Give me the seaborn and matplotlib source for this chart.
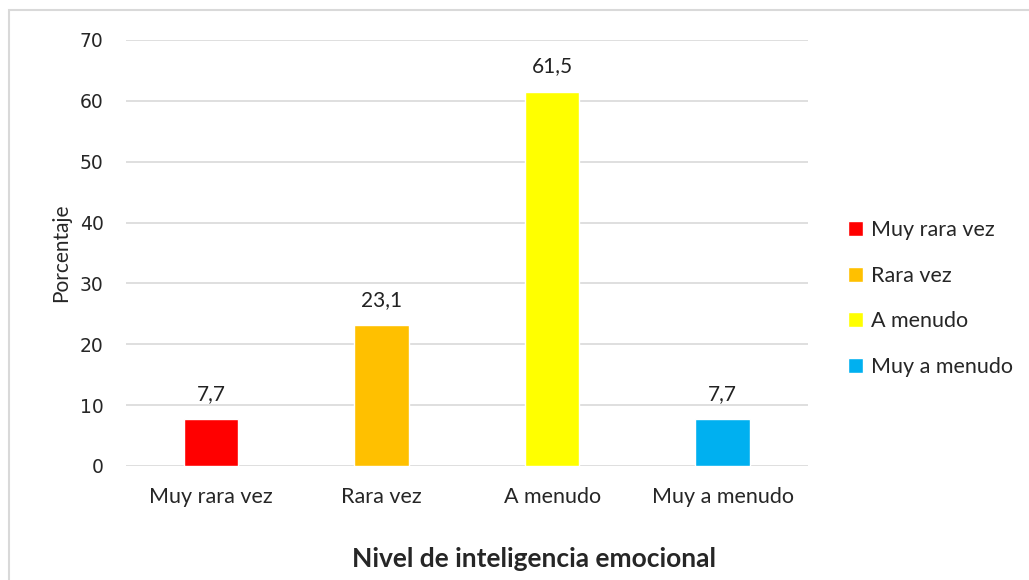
import matplotlib
matplotlib.use("Agg")
import matplotlib.pyplot as plt
import seaborn as sns
import pandas as pd
from matplotlib.patches import Rectangle

categorias = ["Muy rara vez", "Rara vez", "A menudo", "Muy a menudo"]
porcentajes = [7.7, 23.1, 61.5, 7.7]
etiquetas = ["7,7", "23,1", "61,5", "7,7"]
colores = ["#FF0000", "#FFC000", "#FFFF00", "#00B0F0"]
yticks = [0, 10, 20, 30, 40, 50, 60, 70]

df = pd.DataFrame({"nivel": categorias, "pct": porcentajes})

sns.set_style("white")
plt.rcParams["font.family"] = ["Lato", "DejaVu Sans"]

fig = plt.figure(figsize=(10.29, 5.8), dpi=100)
ax = fig.add_axes([0.1224, 0.1966, 0.6628, 0.7345])

sns.barplot(data=df, x="nivel", y="pct", hue="nivel", palette=colores,
            width=0.32, dodge=False, legend=True, ax=ax, saturation=1)

ax.set_ylim(0, 70)
ax.set_xlim(-0.5, 3.5)
ax.set_yticks(yticks)
ax.set_yticklabels([str(t) for t in yticks], family="DejaVu Sans", fontsize=13.5)
ax.tick_params(axis="y", length=0, pad=16)
ax.tick_params(axis="x", length=0, pad=15, labelsize=15.5)
ax.yaxis.grid(True, color="#d9d9d9", linewidth=1.2)
ax.set_axisbelow(True)
for s in ax.spines.values():
    s.set_visible(False)

for i, (v, t) in enumerate(zip(porcentajes, etiquetas)):
    ax.annotate(t, (i, v), xytext=(0, 11), textcoords="offset points",
                ha="center", va="bottom", fontsize=15, color="#222222")

ax.set_xlabel("")
ax.set_ylabel("Porcentaje", fontsize=15, labelpad=6)
fig.text(534 / 1029, 1 - 559 / 580, "Nivel de inteligencia emocional",
         ha="center", va="center", fontsize=19, fontweight="bold")

handles, labels = ax.get_legend_handles_labels()
leg = ax.legend(handles, labels, loc="center left", bbox_to_anchor=(1.03, 0.393),
                frameon=False, fontsize=15.5, handlelength=0.7, handleheight=0.7,
                handletextpad=0.4, labelspacing=1.2)

fig.patches.append(Rectangle((9 / 1029, -0.01), 1.02, (580 - 10) / 580 + 0.01,
                             transform=fig.transFigure, fill=False,
                             edgecolor="#d9d9d9", linewidth=1.5))

fig.savefig("out.png", dpi=100)
